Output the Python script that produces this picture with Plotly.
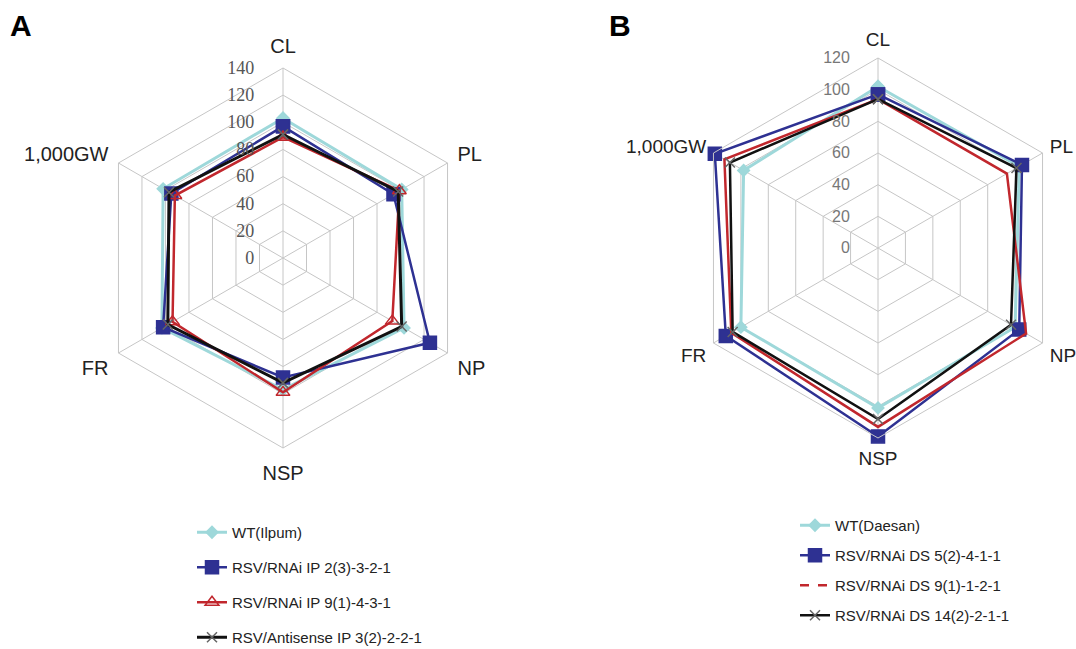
import plotly.graph_objects as go

categories = ["CL", "PL", "NP", "NSP", "FR", "1,000GW"]

# Panel A values
a_names = ["WT(Ilpum)", "RSV/RNAi IP 2(3)-3-2-1", "RSV/RNAi IP 9(1)-4-3-1", "RSV/Antisense IP 3(2)-2-2-1"]
a_wt = [103, 101, 103, 97, 103, 102]
a_ip2 = [97, 94, 125, 88, 102, 95]
a_ip9 = [89, 99, 93, 99, 94, 92]
a_as3 = [91, 98, 101, 92, 98, 97]

# Panel B values
b_names = ["WT(Daesan)", "RSV/RNAi DS 5(2)-4-1-1", "RSV/RNAi DS 9(1)-1-2-1", "RSV/RNAi DS 14(2)-2-1-1"]
b_wt = [102, 103, 100, 101, 100, 98]
b_ds5 = [97, 105, 103, 119, 111, 119]
b_ds9 = [94, 94, 108, 113, 107, 112]
b_ds14 = [94, 101, 97, 108, 106, 108]

a_ticks = [0, 20, 40, 60, 80, 100, 120, 140]
b_ticks = [0, 20, 40, 60, 80, 100, 120]

CYAN = "#9ed8da"
BLUE = "#2e3192"
RED = "#c1272d"
BLACK = "#111111"


def closed(v):
    return list(v) + [v[0]]


theta = closed(categories)

fig = go.Figure()

styles_a = [
    dict(color=CYAN, symbol="diamond", size=9, mcolor=CYAN, width=3),
    dict(color=BLUE, symbol="square", size=13, mcolor=BLUE, width=2.5),
    dict(color=RED, symbol="triangle-up-open", size=12, mcolor=RED, width=2.5),
    dict(color=BLACK, symbol="x-thin-open", size=10, mcolor="#666666", width=3),
]
for name, vals, st, grp in zip(a_names, [a_wt, a_ip2, a_ip9, a_as3], styles_a, ["a1", "a2", "a3", "a4"]):
    fig.add_trace(go.Scatterpolar(
        r=closed(vals), theta=theta, name=name, mode="lines+markers",
        line=dict(color=st["color"], width=st["width"]),
        marker=dict(symbol=st["symbol"], size=st["size"], color=st["mcolor"],
                    line=dict(color=st["mcolor"], width=1.5)),
        subplot="polar", legend="legend", legendgroup=grp,
    ))

styles_b = [
    dict(color=CYAN, symbol="diamond", size=9, mode="lines+markers", width=3),
    dict(color=BLUE, symbol="square", size=13, mode="lines+markers", width=2.5),
    dict(color=RED, symbol="circle", size=1, mode="lines", width=2.5),
    dict(color=BLACK, symbol="x-thin-open", size=10, mode="lines+markers", width=2.5),
]
for i, (name, vals, st, grp) in enumerate(zip(b_names, [b_wt, b_ds5, b_ds9, b_ds14], styles_b, ["b1", "b2", "b3", "b4"])):
    mcol = "#666666" if st["symbol"] == "x-thin-open" else st["color"]
    fig.add_trace(go.Scatterpolar(
        r=closed(vals), theta=theta, name=name, mode=st["mode"],
        line=dict(color=st["color"], width=st["width"]),
        marker=dict(symbol=st["symbol"], size=st["size"], color=mcol, line=dict(color=mcol, width=1.5)),
        subplot="polar2", legend="legend2", legendgroup=grp,
        showlegend=(i != 2),
    ))
    if i == 2:
        # legend entry drawn dashed, as in the reference legend
        fig.add_trace(go.Scatterpolar(
            r=[None], theta=[categories[0]], name=name, mode="lines",
            line=dict(color=RED, width=2.5, dash="dash"),
            subplot="polar2", legend="legend2", legendgroup=grp,
        ))

grid_col = "#c6c6c6"


def polar_layout(domx, domy, rng, ticks, tickfont, angfont, angticklen):
    return dict(
        domain=dict(x=domx, y=domy),
        gridshape="linear",
        bgcolor="white",
        radialaxis=dict(
            range=rng, tickvals=ticks, ticktext=[str(t) for t in ticks],
            angle=90, tickangle=90, side="counterclockwise",
            showline=False, gridcolor=grid_col, gridwidth=1,
            tickfont=tickfont, ticks="outside", ticklen=22, tickcolor="rgba(0,0,0,0)",
        ),
        angularaxis=dict(
            direction="clockwise", rotation=90,
            categoryorder="array", categoryarray=categories,
            showline=True, linecolor=grid_col, linewidth=1,
            gridcolor=grid_col, gridwidth=1,
            ticks="outside", ticklen=angticklen, tickcolor="rgba(0,0,0,0)",
            tickfont=angfont,
        ),
    )


W, H = 1076, 649


def dom(cx, cy, r):
    return [(cx - r) / W, (cx + r) / W], [1 - (cy + r) / H, 1 - (cy - r) / H]


ax, ay = dom(283, 258, 190)
bx, by = dom(878, 248, 190)

fig.update_layout(
    width=W, height=H,
    margin=dict(l=0, r=0, t=0, b=0, autoexpand=False),
    paper_bgcolor="white",
    polar=polar_layout(ax, ay, [0, 140], a_ticks,
                       dict(family="Liberation Serif, Times New Roman", size=18, color="#555555"),
                       dict(family="Arial, Liberation Sans", size=20, color="#222222"), 7),
    polar2=polar_layout(bx, by, [0, 120], b_ticks,
                        dict(family="Arial, Liberation Sans", size=16, color="#777777"),
                        dict(family="Arial, Liberation Sans", size=19, color="#222222"), 4),
    legend=dict(x=192 / W, y=1 - 516 / H, xanchor="left", yanchor="top",
                traceorder="grouped", tracegroupgap=12.5, itemwidth=30,
                font=dict(family="Arial, Liberation Sans", size=15, color="#222222"),
                bgcolor="rgba(0,0,0,0)"),
    legend2=dict(x=795 / W, y=1 - 509 / H, xanchor="left", yanchor="top",
                 traceorder="grouped", tracegroupgap=7.5, itemwidth=30,
                 font=dict(family="Arial, Liberation Sans", size=15, color="#222222"),
                 bgcolor="rgba(0,0,0,0)"),
    annotations=[
        dict(text="<b>A</b>", x=8 / W, y=1 - 7 / H, xref="paper", yref="paper",
             xanchor="left", yanchor="top", showarrow=False,
             font=dict(family="Arial, Liberation Sans", size=30, color="black")),
        dict(text="<b>B</b>", x=607 / W, y=1 - 7 / H, xref="paper", yref="paper",
             xanchor="left", yanchor="top", showarrow=False,
             font=dict(family="Arial, Liberation Sans", size=30, color="black")),
    ],
)

fig.write_html("out.html", config={"displayModeBar": False},
               post_script="document.body.style.margin='0';")
